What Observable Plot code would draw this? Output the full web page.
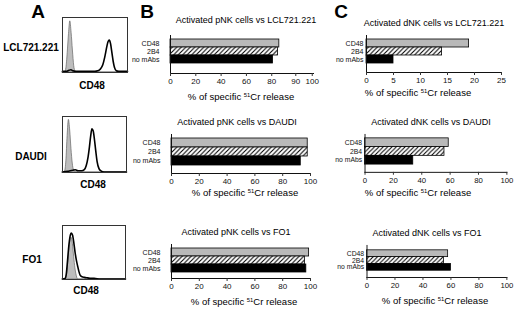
<!DOCTYPE html>
<html><head><meta charset="utf-8">
<script src="https://cdn.jsdelivr.net/npm/d3@7"></script>
<script src="https://cdn.jsdelivr.net/npm/@observablehq/plot@0.6"></script>
<style>
html,body{margin:0;padding:0;background:#fff;}
#fig{position:relative;width:520px;height:309px;overflow:hidden;background:#fff;font-family:"Liberation Sans",Arial,sans-serif;color:#000;}
.t{position:absolute;white-space:nowrap;line-height:1;}
.t sup{font-size:0.62em;vertical-align:0.5em;line-height:0;}
</style></head>
<body><div id="fig"></div>
<script>
// ---------- data ----------
const panelLetters = ["A", "B", "C"];
const targets = ["LCL721.221", "DAUDI", "FO1"];
const markerLabel = "CD48";
const treatments = ["CD48", "2B4", "no mAbs"];
const pnkTitles = ["Activated pNK cells vs LCL721.221", "Activated pNK cells vs DAUDI", "Activated pNK cells vs FO1"];
const dnkTitles = ["Activated dNK cells vs LCL721.221", "Activated dNK cells vs DAUDI", "Activated dNK cells vs FO1"];
const xLabelHtml = "% of specific <sup>51</sup>Cr release";

// % specific 51Cr release, order: CD48, 2B4, no mAbs
const pnkVsLcl = [86, 85, 81];
const pnkVsDaudi = [98, 98, 93];
const pnkVsFo1 = [99, 96, 97];
const dnkVsLcl = [19, 14, 5];
const dnkVsDaudi = [59, 56, 34];
const dnkVsFo1 = [58, 55, 60];

// tick values / labels
const pnkLclTickValues = [0, 20, 40, 60, 80, 99, 112];
const pnkLclTickLabels = ["0", "20", "40", "60", "80", "90", "100"];
const pctTicks = [0, 20, 40, 60, 80, 100];
const pctTickLabels = ["0", "20", "40", "60", "80", "100"];
const dnkLclTicks = [0, 5, 10, 15, 20, 25];
const dnkLclTickLabels = ["0", "5", "10", "15", "20", "25"];

// flow cytometry histograms (channel 0-100, % of max)
const lclIsoX = [0, 4, 6, 8, 10, 12, 14, 16, 18, 20, 24, 100];
const lclIsoY = [0, 0, 8, 35, 70, 93, 72, 40, 12, 2, 0, 0];
const lclCd48X = [0, 6, 10, 13, 16, 20, 30, 40, 50, 54, 58, 62, 65, 68, 70, 72, 74, 76, 78, 80, 83, 90, 100];
const lclCd48Y = [2, 2, 4, 5, 3, 2, 2, 2, 2, 3, 6, 14, 28, 46, 56, 59, 52, 36, 20, 9, 3, 2, 2];
const daudiIsoX = [0, 4, 6, 8, 10, 12, 14, 16, 18, 22, 100];
const daudiIsoY = [0, 2, 20, 65, 94, 75, 42, 16, 4, 0, 0];
const daudiCd48X = [0, 8, 12, 16, 20, 24, 30, 34, 37, 40, 42, 44, 46, 48, 50, 52, 54, 57, 60, 65, 100];
const daudiCd48Y = [1, 2, 3, 4, 5, 3, 3, 5, 12, 28, 45, 65, 78, 74, 58, 38, 20, 7, 3, 1, 1];
const fo1IsoX = [0, 5, 7, 9, 11, 13, 14, 16, 18, 20, 22, 25, 100];
const fo1IsoY = [0, 0, 8, 30, 58, 74, 78, 70, 48, 25, 10, 0, 0];
const fo1Cd48X = [0, 4, 6, 8, 10, 12, 14, 16, 18, 20, 22, 24, 26, 28, 31, 35, 40, 45, 50, 60, 100];
const fo1Cd48Y = [1, 2, 10, 35, 62, 80, 86, 82, 68, 50, 36, 25, 15, 8, 5, 4, 3, 2, 2, 1, 1];

// ---------- styles ----------
const FONT = "'Liberation Sans', Arial, sans-serif";
const barFills = ["#b9b9b9", "url(#hatch)", "#000"];

const fig = document.getElementById("fig");

// hatch pattern
const defs = d3.select(fig).append("svg")
  .attr("width", 0).attr("height", 0)
  .style("position", "absolute").style("left", 0).style("top", 0)
  .append("defs");
const pat = defs.append("pattern").attr("id", "hatch")
  .attr("patternUnits", "userSpaceOnUse").attr("width", 4.5).attr("height", 4.5);
pat.append("rect").attr("width", 4.5).attr("height", 4.5).attr("fill", "#fff");
pat.append("path").attr("d", "M-1,1 L1,-1 M0,4.5 L4.5,0 M3.5,5.5 L5.5,3.5")
  .attr("stroke", "#000").attr("stroke-width", 1.1);

function place(node, left, top) {
  const w = document.createElement("div");
  w.style.cssText = `position:absolute;left:${left}px;top:${top}px;line-height:0;`;
  w.appendChild(node);
  fig.appendChild(w);
}
function text(html, cx, cy, size, bold) {
  const d = document.createElement("div");
  d.className = "t";
  d.innerHTML = html;
  d.style.left = cx + "px";
  d.style.top = cy + "px";
  d.style.fontSize = size + "px";
  d.style.fontWeight = bold ? "bold" : "normal";
  d.style.transform = "translate(-50%,-50%)";
  fig.appendChild(d);
}

function barPanel(values, g, xDomain, tickValues, tickLabels, labelPad) {
  const left = g.x0 - 52, top = g.frameTop - 1;
  const width = (g.x1 + 14) - left, height = (g.axisY + 16) - top;
  const rows = treatments.map((t, i) => ({t, v: values[i]}));
  const fmt = new Map(tickValues.map((v, i) => [v, tickLabels[i]]));
  const svg = Plot.plot({
    width, height,
    marginLeft: g.x0 - left, marginRight: left + width - g.x1,
    marginTop: g.frameTop - top, marginBottom: top + height - g.axisY,
    style: {background: "transparent", fontFamily: FONT, color: "#000", overflow: "visible"},
    x: {domain: xDomain, label: null},
    y: {domain: treatments, range: [g.barTop - top, g.barBottom - top], padding: 0, label: null},
    marks: [
      ...treatments.map((t, i) => Plot.barX(rows.filter(r => r.t === t),
        {x: "v", y: "t", fill: barFills[i], stroke: "#000", strokeWidth: 0.8})),
      Plot.frame({anchor: "left", stroke: "#111"}),
      Plot.frame({anchor: "bottom", stroke: "#111"}),
      Plot.axisX({ticks: tickValues, tickFormat: d => fmt.get(d), tickSize: 3, tickPadding: 2,
        fontSize: 8, label: null, stroke: "#333", fill: "#111"}),
      Plot.axisY({tickSize: 0, tickPadding: labelPad, textAnchor: "end", fontSize: 7, label: null, fill: "#111"})
    ]
  });
  place(svg, left, top);
}

function histPanel(isoX, isoY, cdX, cdY, box) {
  const iso = isoX.map((x, i) => ({x, y: isoY[i]}));
  const cd = cdX.map((x, i) => ({x, y: cdY[i]}));
  const svg = Plot.plot({
    width: box.x1 - box.x0 + 2, height: box.y1 - box.y0 + 2, margin: 1,
    style: {background: "transparent", overflow: "visible"},
    x: {domain: [0, 100], axis: null},
    y: {domain: [0, 100], axis: null},
    marks: [
      Plot.areaY(iso, {x: "x", y: "y", fill: "#bdbdbd", stroke: "#666", strokeWidth: 0.7, curve: "monotone-x"}),
      Plot.lineY(cd, {x: "x", y: "y", stroke: "#000", strokeWidth: 1.6, curve: "monotone-x"}),
      Plot.frame({stroke: "#333"})
    ]
  });
  place(svg, box.x0 - 1, box.y0 - 1);
}

// ---------- layout ----------
text(panelLetters[0], 38, 11, 19, true);
text(panelLetters[1], 147, 11, 19, true);
text(panelLetters[2], 341, 11, 19, true);

text(targets[0], 31, 48, 10, true);
text(targets[1], 31, 157, 10, true);
text(targets[2], 32, 260, 10, true);

histPanel(lclIsoX, lclIsoY, lclCd48X, lclCd48Y, {x0: 62, x1: 127, y0: 17, y1: 72});
histPanel(daudiIsoX, daudiIsoY, daudiCd48X, daudiCd48Y, {x0: 62, x1: 126, y0: 116, y1: 172});
histPanel(fo1IsoX, fo1IsoY, fo1Cd48X, fo1Cd48Y, {x0: 62, x1: 125, y0: 225, y1: 279});
text(markerLabel, 92, 86, 10, true);
text(markerLabel, 93, 185, 10, true);
text(markerLabel, 86, 291, 10, true);

barPanel(pnkVsLcl, {x0: 170, x1: 313, frameTop: 35, barTop: 38, barBottom: 64, axisY: 73}, [0, 113], pnkLclTickValues, pnkLclTickLabels, 11);
barPanel(pnkVsDaudi, {x0: 171, x1: 310, frameTop: 134, barTop: 138, barBottom: 165, axisY: 173}, [0, 100], pctTicks, pctTickLabels, 11);
barPanel(pnkVsFo1, {x0: 171, x1: 310, frameTop: 244, barTop: 248, barBottom: 272, axisY: 278}, [0, 100], pctTicks, pctTickLabels, 11);
barPanel(dnkVsLcl, {x0: 366, x1: 501, frameTop: 35, barTop: 39, barBottom: 63, axisY: 72}, [0, 25], dnkLclTicks, dnkLclTickLabels, 3);
barPanel(dnkVsDaudi, {x0: 366, x1: 512, frameTop: 134, barTop: 137, barBottom: 166, axisY: 173}, [0, 100], pctTicks, pctTickLabels, 3);
barPanel(dnkVsFo1, {x0: 368, x1: 512, frameTop: 245, barTop: 249, barBottom: 272, axisY: 278}, [0, 100], pctTicks, pctTickLabels, 3);

text(pnkTitles[0], 246, 20, 9, false);
text(pnkTitles[1], 237, 122, 9, false);
text(pnkTitles[2], 236, 232, 9, false);
text(dnkTitles[0], 434, 23, 9, false);
text(dnkTitles[1], 431, 122, 9, false);
text(dnkTitles[2], 427, 233, 9, false);

text(xLabelHtml, 241, 97, 9.5, false);
text(xLabelHtml, 245, 193, 9.5, false);
text(xLabelHtml, 244, 302, 9.5, false);
text(xLabelHtml, 418, 93, 9.5, false);
text(xLabelHtml, 418, 193, 9.5, false);
text(xLabelHtml, 435, 301, 9.5, false);
</script>
</body></html>
